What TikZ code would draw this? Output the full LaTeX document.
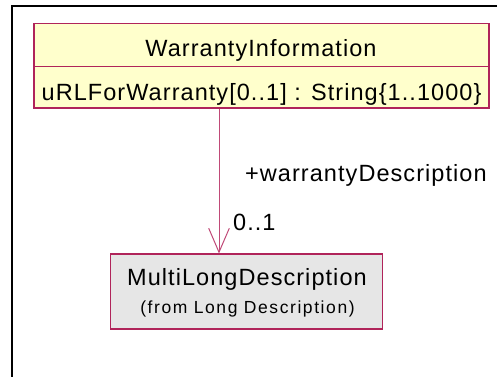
\documentclass[tikz,border=0pt]{standalone}
\usepackage{fontspec}
\setmainfont{Liberation Sans}
\usetikzlibrary{arrows.meta}
\definecolor{umlborder}{HTML}{B0245A}
\definecolor{umlline}{HTML}{C04A78}
\definecolor{umlyellow}{HTML}{FFFFCC}
\definecolor{umlgray}{HTML}{E6E6E6}
\newfontfamily\bigf[LetterSpace=4.5]{Liberation Sans}
\newfontfamily\smallf[LetterSpace=9]{Liberation Sans}
\tikzset{
  classbox/.style={draw=umlborder, line width=1.3pt},
  txt/.style={inner sep=0pt, anchor=base, font=\bigf\fontsize{23.5}{27}\selectfont},
  smalltxt/.style={inner sep=0pt, anchor=base, font=\smallf\fontsize{17.5}{21}\selectfont},
  assoc/.style={draw=umlline, line width=1pt, -{Straight Barb[length=24pt,width=20.6pt,line width=1pt]}},
  frameline/.style={draw=black, line width=2pt}
}
\begin{document}
\begin{tikzpicture}[x=1pt,y=-1pt]
\useasboundingbox (0,0) rectangle (500,376);
% frame
\coordinate (ftr) at (497,6);
\coordinate (ftl) at (11.5,6);
\coordinate (fbl) at (11.5,380);
\draw[frameline] (ftr) -- (ftl) -- (fbl);
% WarrantyInformation class
\path[classbox, fill=umlyellow] (34,23.3) rectangle (489,108);
\coordinate (divl) at (34,66.7);
\coordinate (divr) at (489,66.7);
\draw[classbox] (divl) -- (divr);
\node[txt] (winame) at (261,56.7) {WarrantyInformation};
\node[txt, anchor=base west] (wiattr) at (41.5,100) {uRLForWarranty[0..1] : String\{1..1000\}};
% MultiLongDescription class
\path[classbox, fill=umlgray] (110.7,254) rectangle (382.7,329);
\node[txt] (mldname) at (247,285) {MultiLongDescription};
\node[smalltxt] (mldfrom) at (247.5,313.3) {(from Long Description)};
% association
\coordinate (src) at (219,108.6);
\coordinate (dst) at (219,253.5);
\draw[assoc] (src) -- (dst);
\node[txt, anchor=base west] (role) at (245,181) {+warrantyDescription};
\node[txt, anchor=base west] (mult) at (233,230) {0..1};
\end{tikzpicture}
\end{document}
